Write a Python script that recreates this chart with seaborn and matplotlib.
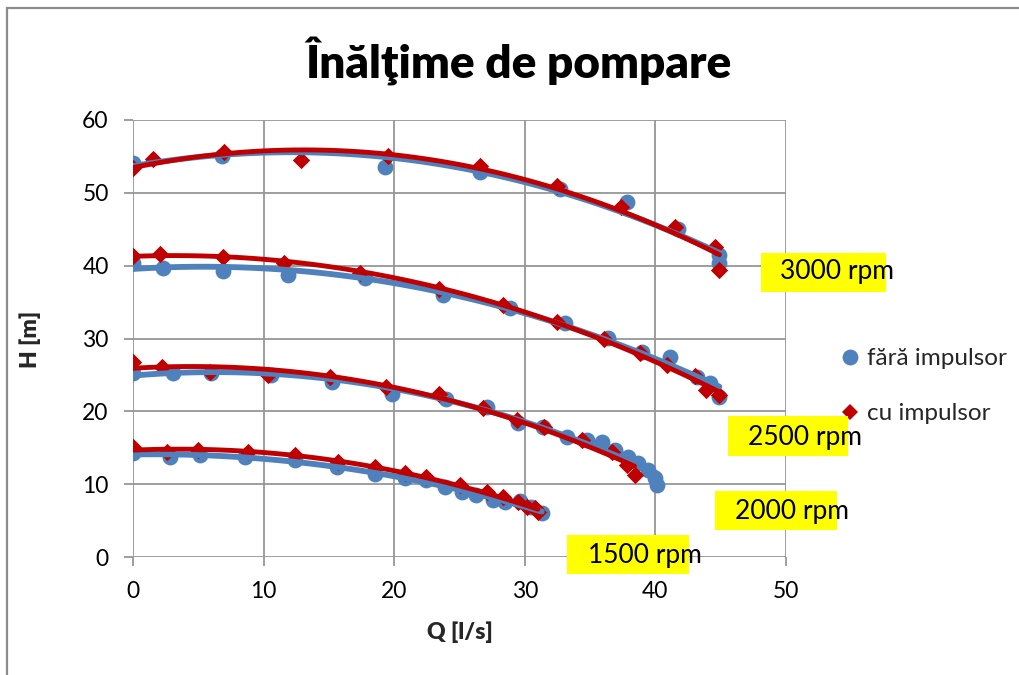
import numpy as np
import pandas as pd
import matplotlib
matplotlib.use("Agg")
import matplotlib.pyplot as plt
from matplotlib.patches import Rectangle
from matplotlib.lines import Line2D
import seaborn as sns

# Pump head curves, with and without the impeller insert, at four speeds
q_3000_fara = [0, 6.8, 19.3, 26.6, 32.7, 37.8, 41.7, 44.9, 44.9]
h_3000_fara = [54.1, 55.1, 53.6, 52.9, 50.5, 48.7, 45.0, 41.5, 40.3]
q_3000_cu = [0, 1.5, 7.0, 12.9, 19.5, 26.6, 32.5, 37.4, 41.5, 44.6, 44.9]
h_3000_cu = [53.4, 54.6, 55.6, 54.5, 55.0, 53.7, 50.9, 48.0, 45.3, 42.6, 39.4]

q_2500_fara = [0, 2.3, 6.9, 11.9, 17.8, 23.7, 28.9, 33.1, 36.4, 39.0, 41.1, 43.2, 44.2, 44.9]
h_2500_fara = [40.4, 39.7, 39.2, 38.7, 38.3, 36.0, 34.2, 32.1, 30.1, 28.2, 27.5, 24.7, 23.9, 22.0]
q_2500_cu = [0, 2.1, 6.9, 11.6, 17.4, 23.4, 28.3, 32.5, 36.1, 38.8, 40.9, 43.0, 43.9, 44.9]
h_2500_cu = [41.3, 41.6, 41.2, 40.4, 39.0, 36.8, 34.6, 32.3, 29.9, 28.0, 26.4, 24.9, 22.9, 22.2]

q_2000_fara = [0, 3.1, 6.0, 10.6, 15.2, 19.8, 24.0, 27.1, 29.5, 31.4, 33.2, 34.8, 35.9,
               36.9, 37.9, 38.7, 39.4, 40.0, 40.1]
h_2000_fara = [25.3, 25.3, 25.3, 25.0, 24.0, 22.4, 21.7, 20.6, 18.4, 17.9, 16.5, 16.1, 15.8,
               14.7, 13.7, 12.9, 12.0, 10.8, 9.9]
q_2000_cu = [0, 2.2, 5.9, 10.3, 15.1, 19.4, 23.4, 26.8, 29.4, 31.5, 34.4, 36.7, 37.8, 38.4]
h_2000_cu = [26.8, 26.1, 25.4, 25.0, 24.7, 23.3, 22.4, 20.5, 18.8, 17.9, 16.1, 14.4, 12.6, 11.3]

q_1500_fara = [0, 2.8, 5.1, 8.6, 12.4, 15.6, 18.5, 20.8, 22.4, 23.9, 25.2, 26.3, 27.6,
               28.5, 29.6, 30.5, 31.3]
h_1500_fara = [14.3, 13.7, 14.0, 13.7, 13.3, 12.4, 11.4, 10.8, 10.6, 9.6, 8.9, 8.5, 7.8,
               7.6, 7.7, 6.8, 6.0]
q_1500_cu = [0, 2.6, 5.0, 8.8, 12.4, 15.7, 18.5, 20.8, 22.4, 25.0, 27.1, 28.3, 29.5,
             30.2, 30.8, 31.0]
h_1500_cu = [15.1, 14.4, 14.7, 14.4, 14.0, 13.1, 12.4, 11.5, 11.0, 9.9, 8.9, 8.2, 7.6,
             6.9, 6.7, 6.2]

speed_labels = ["3000 rpm", "2500 rpm", "2000 rpm", "1500 rpm"]
series_labels = ["fără impulsor", "cu impulsor"]
title_text = "Înălţime de pompare"
x_label = "Q [l/s]"
y_label = "H [m]"
x_ticks = [0, 10, 20, 30, 40, 50]
y_ticks = [0, 10, 20, 30, 40, 50, 60]

BLUE = "#4F81BD"
RED = "#C00000"
GRID = "#969696"

sns.set_theme(style="white")
plt.rcParams["font.family"] = ["Lato", "DejaVu Sans"]

W, H = 1020, 675
fig = plt.figure(figsize=(W / 100, H / 100), dpi=100)
fig.patch.set_facecolor("white")


def fx(px):
    return px / W


def fy(py):
    return 1 - py / H


ax = fig.add_axes([fx(133), fy(557), fx(786) - fx(133), fy(120) - fy(557)])

fara = [(q_3000_fara, h_3000_fara), (q_2500_fara, h_2500_fara),
        (q_2000_fara, h_2000_fara), (q_1500_fara, h_1500_fara)]
cu = [(q_3000_cu, h_3000_cu), (q_2500_cu, h_2500_cu),
      (q_2000_cu, h_2000_cu), (q_1500_cu, h_1500_cu)]

# markers
for q, h in fara:
    sns.scatterplot(x=q, y=h, ax=ax, color=BLUE, marker="o", s=130,
                    linewidth=0, zorder=3, legend=False)
for q, h in cu:
    sns.scatterplot(x=q, y=h, ax=ax, color=RED, marker="D", s=78,
                    linewidth=0, zorder=4, legend=False)

# second-order polynomial trend lines
for q, h in fara:
    sns.regplot(x=np.array(q), y=np.array(h), ax=ax, order=2, ci=None, scatter=False,
                truncate=True, line_kws=dict(color=BLUE, lw=4.2, zorder=5,
                                             solid_capstyle="round"))
for q, h in cu:
    sns.regplot(x=np.array(q), y=np.array(h), ax=ax, order=2, ci=None, scatter=False,
                truncate=True, line_kws=dict(color=RED, lw=3.5, zorder=6,
                                             solid_capstyle="round"))

ax.set_xlim(0, 50)
ax.set_ylim(0, 60)
ax.set_xticks(x_ticks)
ax.set_yticks(y_ticks)
ax.grid(True, color=GRID, lw=1.3)
ax.set_axisbelow(True)
for sp in ax.spines.values():
    sp.set_visible(False)
ax.tick_params(axis="both", which="major", direction="out", length=6.5, width=1.3,
               color=GRID, labelsize=16.5, labelcolor="black", pad=11,
               bottom=True, left=True)

ax.set_xlabel(x_label, fontsize=16.5, fontweight="heavy")
ax.set_ylabel(y_label, fontsize=16.5, fontweight="heavy")
ax.xaxis.set_label_coords(0.5, -0.172)
ax.xaxis.label.set_va("center")
ax.yaxis.set_label_coords(-0.158, 0.497)
ax.yaxis.label.set_va("center")

fig.text(fx(519), fy(78), title_text, ha="center", va="baseline",
         fontsize=33, fontweight="heavy", color="black")

# speed tags
tags = [((761, 253, 886, 292), (780, 272)),
        ((728, 416, 848, 456), (748, 437)),
        ((715, 491, 837, 530), (735, 512)),
        ((567, 535, 689, 574), (588, 555))]
for label, ((x0, y0, x1, y1), (tx, ty)) in zip(speed_labels, tags):
    fig.patches.append(Rectangle((fx(x0), fy(y1)), fx(x1) - fx(x0), fy(y0) - fy(y1),
                                 transform=fig.transFigure, facecolor="#FFFF00",
                                 edgecolor="none", zorder=8))
    fig.text(fx(tx), fy(ty), label, ha="left", va="center", fontsize=19,
             color="black", zorder=9)

handles = [Line2D([], [], ls="none", marker="o", ms=11.4, color=BLUE, mew=0),
           Line2D([], [], ls="none", marker="D", ms=8.6, color=RED, mew=0)]
fig.legend(handles, series_labels, loc="upper left",
           bbox_to_anchor=(fx(840), fy(348)), frameon=False, fontsize=17.5,
           handlelength=0.8, handletextpad=0.3, labelspacing=1.4,
           borderaxespad=0, borderpad=0)

# outer chart frame
fig.patches.append(Rectangle((fx(7), fy(690)), fx(1040) - fx(7), fy(8) - fy(690),
                             transform=fig.transFigure, facecolor="none",
                             edgecolor="#8C8C8C", lw=1.6, zorder=10))

fig.savefig("out.png", dpi=100)
